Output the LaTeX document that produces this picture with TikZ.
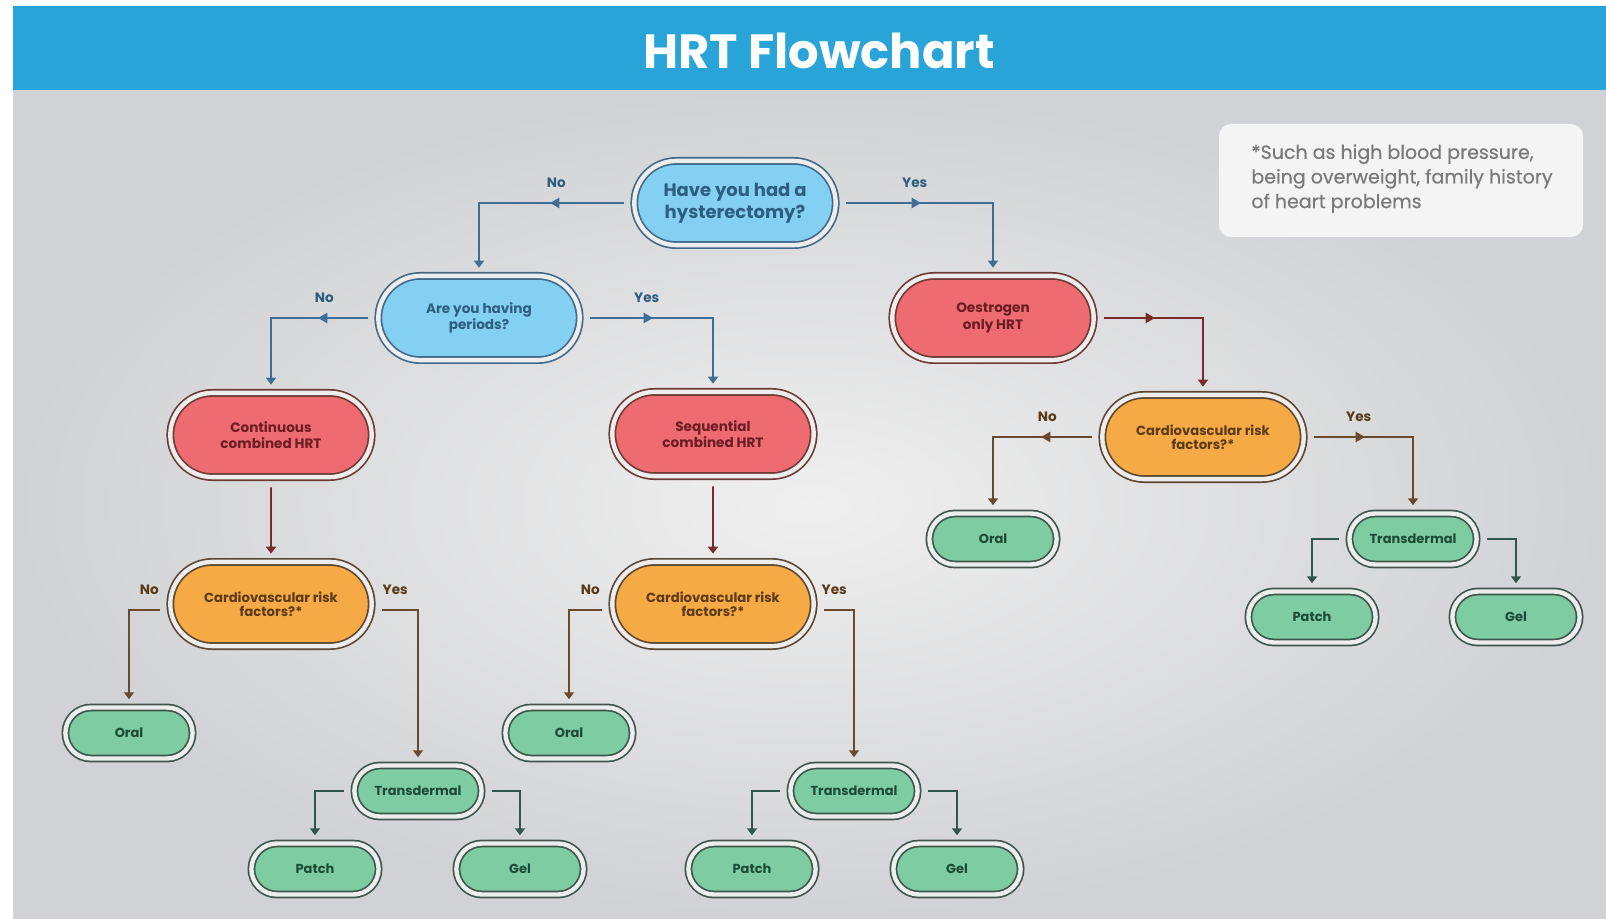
\documentclass[tikz,border=0pt]{standalone}
\usepackage{fontspec}
\setmainfont{Poppins}
\newfontfamily\notefont{Poppins}[FakeBold=0.5]
\usetikzlibrary{shapes.misc,shapes.geometric,arrows.meta}

\definecolor{hdrblue}{HTML}{29A4D8}
\definecolor{bgin}{HTML}{EFEFEF}
\definecolor{bgout}{HTML}{D1D2D5}
\definecolor{ring}{HTML}{EDEDED}
\definecolor{notebg}{HTML}{F4F4F4}
\definecolor{notetxt}{HTML}{7A7A7A}
\definecolor{qfill}{HTML}{84D0F2}
\definecolor{qline}{HTML}{41698A}
\definecolor{qtext}{HTML}{2D5E80}
\definecolor{qarrow}{HTML}{3E6E96}
\definecolor{tfill}{HTML}{EF6B72}
\definecolor{tline}{HTML}{6E3A34}
\definecolor{ttext}{HTML}{6A1E22}
\definecolor{tarrow}{HTML}{7B2B2B}
\definecolor{rfill}{HTML}{F6AA45}
\definecolor{rline}{HTML}{5C4632}
\definecolor{rtext}{HTML}{5B3A17}
\definecolor{rarrow}{HTML}{6A4A2E}
\definecolor{ofill}{HTML}{7DCCA2}
\definecolor{oline}{HTML}{3E554C}
\definecolor{otext}{HTML}{1D4A34}
\definecolor{oarrow}{HTML}{30564A}

\tikzset{
  pill/.style={rounded rectangle, draw=#1, line width=0.85pt, double=ring,
    double distance=2.2pt, align=center, inner sep=2pt},
  question/.style={pill=qline, fill=qfill, text=qtext,
    font=\bfseries\fontsize{6.8}{8.2}\selectfont,
    minimum width=104.7pt, minimum height=42.1pt},
  therapy/.style={pill=tline, fill=tfill, text=ttext,
    font=\bfseries\fontsize{6.8}{8.2}\selectfont,
    minimum width=104.7pt, minimum height=42.1pt},
  risk/.style={pill=rline, fill=rfill, text=rtext,
    font=\bfseries\fontsize{6.6}{6.8}\selectfont,
    minimum width=104.7pt, minimum height=42.1pt},
  option/.style={pill=oline, fill=ofill, text=otext,
    font=\bfseries\fontsize{6.5}{8}\selectfont,
    minimum width=67.6pt, minimum height=25.5pt},
  link/.style={draw=#1, line width=0.9pt, -{Triangle[width=5pt,length=3.5pt]},
    shorten <=4.7pt, shorten >=3.7pt},
  midtip/.style={pos=0.25, sloped, allow upside down, isosceles triangle,
    isosceles triangle apex angle=60, fill=#1, inner sep=0pt, minimum height=4.6pt},
  yesno/.style={pos=0.25, above=7pt, inner sep=0pt,
    font=\bfseries\fontsize{6.8}{7}\selectfont, text=#1}
}

\begin{document}
\begin{tikzpicture}[x=0.5pt,y=-0.5pt]
  % page, header and backdrop
  \fill[white] (0,0) rectangle (1606,919);
  \shade[inner color=bgin, outer color=bgout] (13,90) rectangle (1606,919);
  \fill[hdrblue] (13,6) rectangle (1606,90);
  \node[text=white, font=\bfseries\fontsize{24}{24}\selectfont] (title) at (819,51) {HRT Flowchart};

  % footnote
  \node[fill=notebg, rounded corners=6pt, minimum width=182pt, minimum height=56.5pt] (notebox) at (1401,180.5) {};
  \node[anchor=north west, align=left, inner sep=0pt, text=notetxt,
        font=\notefont\fontsize{9.5}{12.3}\selectfont] (note) at (1251,144)
    {*Such as high blood pressure,\\being overweight, family history\\of heart problems};

  % decisions and treatments
  \node[question, font=\bfseries\fontsize{9}{10.8}\selectfont] (hyst) at (735,203) {Have you had a\\hysterectomy?};
  \node[question] (periods) at (479,318) {Are you having\\periods?};
  \node[therapy] (oestro) at (993,318) {Oestrogen\\only HRT};
  \node[therapy] (contin) at (271,435) {Continuous\\combined HRT};
  \node[therapy] (sequen) at (713,434) {Sequential\\combined HRT};
  \node[risk] (riskR) at (1203,437) {Cardiovascular risk\\factors?*};
  \node[risk] (riskL) at (271,604) {Cardiovascular risk\\factors?*};
  \node[risk] (riskM) at (713,604) {Cardiovascular risk\\factors?*};

  % routes
  \node[option] (oralR) at (993,539) {Oral};
  \node[option] (transR) at (1413,539) {Transdermal};
  \node[option] (patchR) at (1312,617) {Patch};
  \node[option] (gelR) at (1516,617) {Gel};
  \node[option] (oralL) at (129,733) {Oral};
  \node[option] (oralM) at (569,733) {Oral};
  \node[option] (transL) at (418,791) {Transdermal};
  \node[option] (transM) at (854,791) {Transdermal};
  \node[option] (patchL) at (315,869) {Patch};
  \node[option] (gelL) at (520,869) {Gel};
  \node[option] (patchM) at (752,869) {Patch};
  \node[option] (gelM) at (957,869) {Gel};

  % connectors
  \draw[link=qarrow] (hyst.west) -| node[midtip=qarrow]{} node[yesno=qtext]{No} (periods.north);
  \draw[link=qarrow] (hyst.east) -| node[midtip=qarrow]{} node[yesno=qtext]{Yes} (oestro.north);
  \draw[link=qarrow] (periods.west) -| node[midtip=qarrow]{} node[yesno=qtext]{No} (contin.north);
  \draw[link=qarrow] (periods.east) -| node[midtip=qarrow]{} node[yesno=qtext]{Yes} (sequen.north);
  \draw[link=tarrow] (oestro.east) -| node[midtip=tarrow]{} (riskR.north);
  \draw[link=tarrow] (contin) -- (riskL);
  \draw[link=tarrow] (sequen) -- (riskM);
  \draw[link=rarrow] (riskR.west) -| node[midtip=rarrow]{} node[yesno=rtext]{No} (oralR.north);
  \draw[link=rarrow] (riskR.east) -| node[midtip=rarrow]{} node[yesno=rtext]{Yes} (transR.north);
  \draw[link=rarrow] ([yshift=-3pt]riskL.west) -| node[yesno=rtext]{No} (oralL.north);
  \draw[link=rarrow] ([yshift=-3pt]riskL.east) -| node[yesno=rtext]{Yes} (transL.north);
  \draw[link=rarrow] ([yshift=-3pt]riskM.west) -| node[yesno=rtext]{No} (oralM.north);
  \draw[link=rarrow] ([yshift=-3pt]riskM.east) -| node[yesno=rtext]{Yes} (transM.north);
  \draw[link=oarrow] (transR.west) -| (patchR.north);
  \draw[link=oarrow] (transR.east) -| (gelR.north);
  \draw[link=oarrow] (transL.west) -| (patchL.north);
  \draw[link=oarrow] (transL.east) -| (gelL.north);
  \draw[link=oarrow] (transM.west) -| (patchM.north);
  \draw[link=oarrow] (transM.east) -| (gelM.north);
\end{tikzpicture}
\end{document}
